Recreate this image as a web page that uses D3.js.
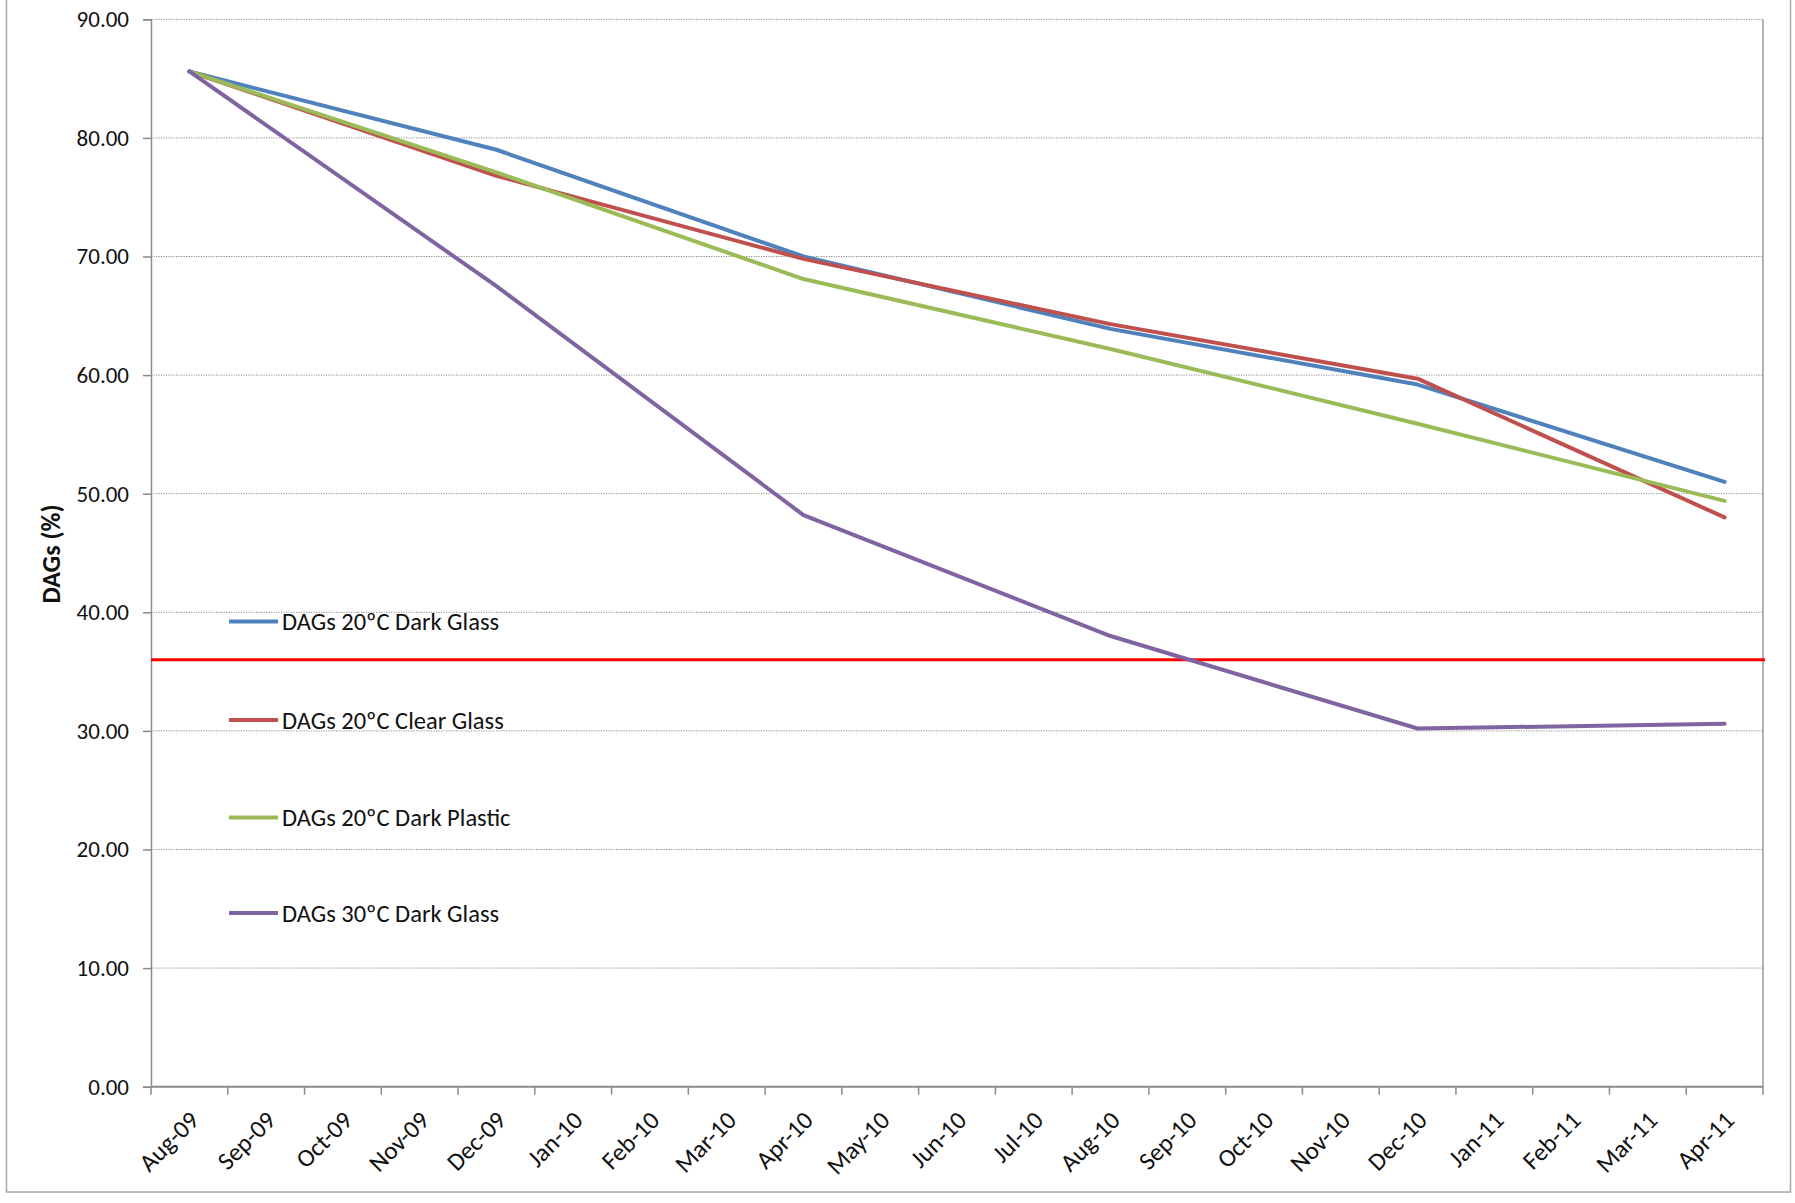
<!DOCTYPE html>
<html>
<head>
<meta charset="utf-8">
<script src="https://cdn.jsdelivr.net/npm/d3@7"></script>
<style>
  html, body { margin: 0; padding: 0; background: #fff; }
  svg { display: block; }
  text { font-family: Carlito, Calibri, Lato, sans-serif; fill: #111; }
</style>
</head>
<body>
<svg id="chart" width="1795" height="1203"></svg>
<script>
// ---- data ----
const months = ["Aug-09","Sep-09","Oct-09","Nov-09","Dec-09","Jan-10","Feb-10","Mar-10","Apr-10","May-10","Jun-10","Jul-10","Aug-10","Sep-10","Oct-10","Nov-10","Dec-10","Jan-11","Feb-11","Mar-11","Apr-11"];
const sampleMonths = ["Aug-09","Dec-09","Apr-10","Aug-10","Dec-10","Apr-11"];
const seriesNames = ["DAGs 20ºC Dark Glass","DAGs 20ºC Clear Glass","DAGs 20ºC Dark Plastic","DAGs 30ºC Dark Glass"];
const darkGlass20  = [85.6, 79.0, 70.0, 63.9, 59.2, 51.0];
const clearGlass20 = [85.6, 76.8, 69.8, 64.3, 59.7, 48.0];
const darkPlastic20 = [85.6, 77.1, 68.1, 62.2, 55.9, 49.4];
const darkGlass30  = [85.6, 67.5, 48.2, 38.0, 30.2, 30.6];
const seriesColors = ["#4F81BD","#C0504D","#9BBB59","#8064A2"];
const yTicks = [0,10,20,30,40,50,60,70,80,90];
const thresholdValue = 36;
const yTitle = "DAGs (%)";

const seriesValues = [darkGlass20, clearGlass20, darkPlastic20, darkGlass30];

// ---- layout ----
const svg = d3.select("#chart");
const plotL = 151, plotR = 1763, plotT = 19.3, plotB = 1086.7;

const x = d3.scaleBand().domain(months).range([plotL, plotR]).padding(0);
const y = d3.scaleLinear().domain([0, 90]).range([plotB, plotT]);
const cx = m => x(m) + x.bandwidth() / 2;

// outer frame
svg.append("rect").attr("x", 6.5).attr("y", -5).attr("width", 1784).attr("height", 1197)
  .attr("fill", "none").attr("stroke", "#a8a8a8").attr("stroke-width", 1.5);

// gridlines
svg.append("g").selectAll("line").data(yTicks.filter(d => d > 0)).join("line")
  .attr("x1", plotL).attr("x2", plotR)
  .attr("y1", d => y(d)).attr("y2", d => y(d))
  .attr("stroke", "#8a8a8a").attr("stroke-width", 1).attr("stroke-dasharray", "1.2,1.3");

// right border of plot
svg.append("line").attr("x1", plotR).attr("x2", plotR).attr("y1", plotT).attr("y2", plotB)
  .attr("stroke", "#9a9a9a").attr("stroke-width", 1.5);

// y axis
const yAxis = d3.axisLeft(y).tickValues(yTicks).tickFormat(d3.format(".2f")).tickSize(8).tickPadding(14);
const gy = svg.append("g").attr("transform", `translate(${plotL},0)`).call(yAxis);
gy.select(".domain").attr("stroke", "#8a8a8a").attr("stroke-width", 1.5);
gy.selectAll(".tick line").attr("stroke", "#8a8a8a").attr("stroke-width", 1.5);
gy.selectAll(".tick text").attr("font-size", 23).attr("font-family", "Carlito, Calibri, Lato, sans-serif").attr("fill", "#111");

// x axis (ticks at category boundaries)
const gx = svg.append("g").attr("transform", `translate(0,${plotB})`);
gx.append("line").attr("x1", plotL).attr("x2", plotR).attr("y1", 0).attr("y2", 0)
  .attr("stroke", "#8a8a8a").attr("stroke-width", 2);
const boundaries = months.map(m => x(m)).concat([plotR]);
gx.selectAll("line.tk").data(boundaries).join("line").attr("class", "tk")
  .attr("x1", d => d).attr("x2", d => d).attr("y1", 0).attr("y2", 8)
  .attr("stroke", "#8a8a8a").attr("stroke-width", 1.5);
gx.selectAll("text").data(months).join("text")
  .attr("transform", d => `translate(${cx(d) + 11},${35}) rotate(-45)`)
  .attr("text-anchor", "end")
  .attr("font-size", 25)
  .text(d => d);

// y title
svg.append("text")
  .attr("transform", `translate(60,554) rotate(-90)`)
  .attr("text-anchor", "middle")
  .attr("font-size", 26).attr("font-weight", "bold")
  .text(yTitle);

// threshold line
svg.append("line").attr("x1", plotL).attr("x2", plotR + 2)
  .attr("y1", y(thresholdValue)).attr("y2", y(thresholdValue))
  .attr("stroke", "#FF0000").attr("stroke-width", 3);

// series lines
const line = d3.line().x(d => cx(d.m)).y(d => y(d.v));
seriesValues.forEach((vals, i) => {
  const pts = sampleMonths.map((m, j) => ({ m, v: vals[j] }));
  svg.append("path").datum(pts)
    .attr("d", line)
    .attr("fill", "none")
    .attr("stroke", seriesColors[i])
    .attr("stroke-width", 4)
    .attr("stroke-linejoin", "round")
    .attr("stroke-linecap", "round");
});

// legend
const legendY = [621.5, 720, 817.5, 913];
const lg = svg.append("g");
seriesNames.forEach((name, i) => {
  lg.append("line").attr("x1", 229).attr("x2", 278).attr("y1", legendY[i]).attr("y2", legendY[i])
    .attr("stroke", seriesColors[i]).attr("stroke-width", 4);
  lg.append("text").attr("x", 282).attr("y", legendY[i]).attr("dy", "0.35em")
    .attr("font-size", 24.5).text(name);
});
</script>
</body>
</html>
